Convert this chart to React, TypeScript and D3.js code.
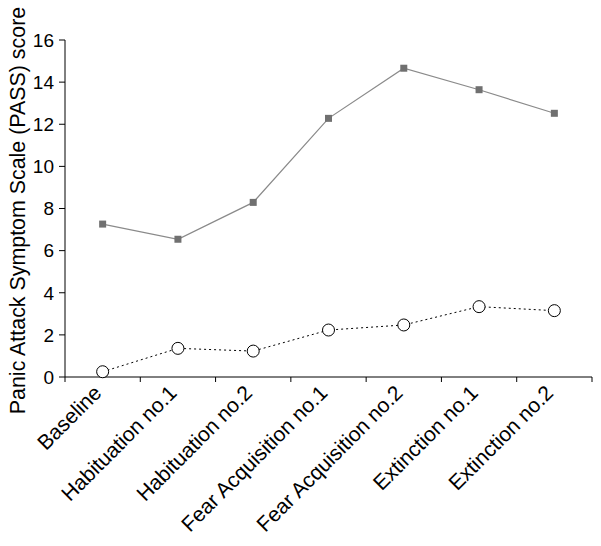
import React from "react";
import * as d3 from "d3";

const categories = [
  "Baseline",
  "Habituation no.1",
  "Habituation no.2",
  "Fear Acquisition no.1",
  "Fear Acquisition no.2",
  "Extinction no.1",
  "Extinction no.2",
];
const squareSeries = [7.26, 6.54, 8.29, 12.28, 14.66, 13.64, 12.52];
const circleSeries = [0.25, 1.36, 1.23, 2.23, 2.47, 3.34, 3.15];
const yTicks = [0, 2, 4, 6, 8, 10, 12, 14, 16];
const yLabel = "Panic Attack Symptom Scale (PASS) score";

const W = 601;
const H = 546;
const left = 65;
const right = 592;
const top = 40;
const bottom = 377;
const FONT = "'Liberation Sans', Arial, Helvetica, sans-serif";

export default function App() {
  const x = d3.scaleBand<string>().domain(categories).range([left, right]);
  const y = d3.scaleLinear().domain([0, 16]).range([bottom, top]);
  const cx = (c: string) => (x(c) as number) + x.bandwidth() / 2;

  const line = d3
    .line<number>()
    .x((_, i) => cx(categories[i]))
    .y((d) => y(d));

  const bandEdges = categories.map((c) => x(c) as number).concat([right]);

  return (
    <svg
      width={W}
      height={H}
      style={{ position: "absolute", left: 0, top: 0, background: "#fff" }}
      fontFamily={FONT}
    >
      {/* y axis */}
      <line x1={left} x2={left} y1={top} y2={bottom} stroke="#000" strokeWidth={1} />
      {yTicks.map((t) => (
        <g key={t}>
          <line x1={left - 6} x2={left} y1={y(t)} y2={y(t)} stroke="#000" strokeWidth={1} />
          <text
            x={left - 11}
            y={y(t)}
            dy="0.36em"
            textAnchor="end"
            fontSize={19}
            fill="#000"
          >
            {t}
          </text>
        </g>
      ))}
      {/* x axis */}
      <line x1={left} x2={right} y1={bottom} y2={bottom} stroke="#000" strokeWidth={1} />
      {bandEdges.map((bx, i) => (
        <line key={i} x1={bx} x2={bx} y1={bottom} y2={bottom + 5} stroke="#000" strokeWidth={1} />
      ))}
      {categories.map((c) => (
        <text
          key={c}
          transform={`translate(${cx(c) - 5},${bottom + 12}) rotate(-45)`}
          textAnchor="end"
          dy="0.35em"
          fontSize={21}
          fill="#000"
        >
          {c}
        </text>
      ))}
      {/* y label */}
      <text
        transform={`translate(25,${(8 + 413) / 2}) rotate(-90)`}
        textAnchor="middle"
        fontSize={21.4}
        fill="#000"
      >
        {yLabel}
      </text>
      {/* square series */}
      <path d={line(squareSeries) || ""} fill="none" stroke="#8a8a8a" strokeWidth={1.2} />
      {squareSeries.map((v, i) => (
        <rect
          key={i}
          x={cx(categories[i]) - 3.5}
          y={y(v) - 3.5}
          width={7}
          height={7}
          fill="#707070"
        />
      ))}
      {/* circle series */}
      <path
        d={line(circleSeries) || ""}
        fill="none"
        stroke="#000"
        strokeWidth={1}
        strokeDasharray="2,3"
      />
      {circleSeries.map((v, i) => (
        <circle
          key={i}
          cx={cx(categories[i])}
          cy={y(v)}
          r={6}
          fill="#fff"
          stroke="#000"
          strokeWidth={1}
        />
      ))}
    </svg>
  );
}
